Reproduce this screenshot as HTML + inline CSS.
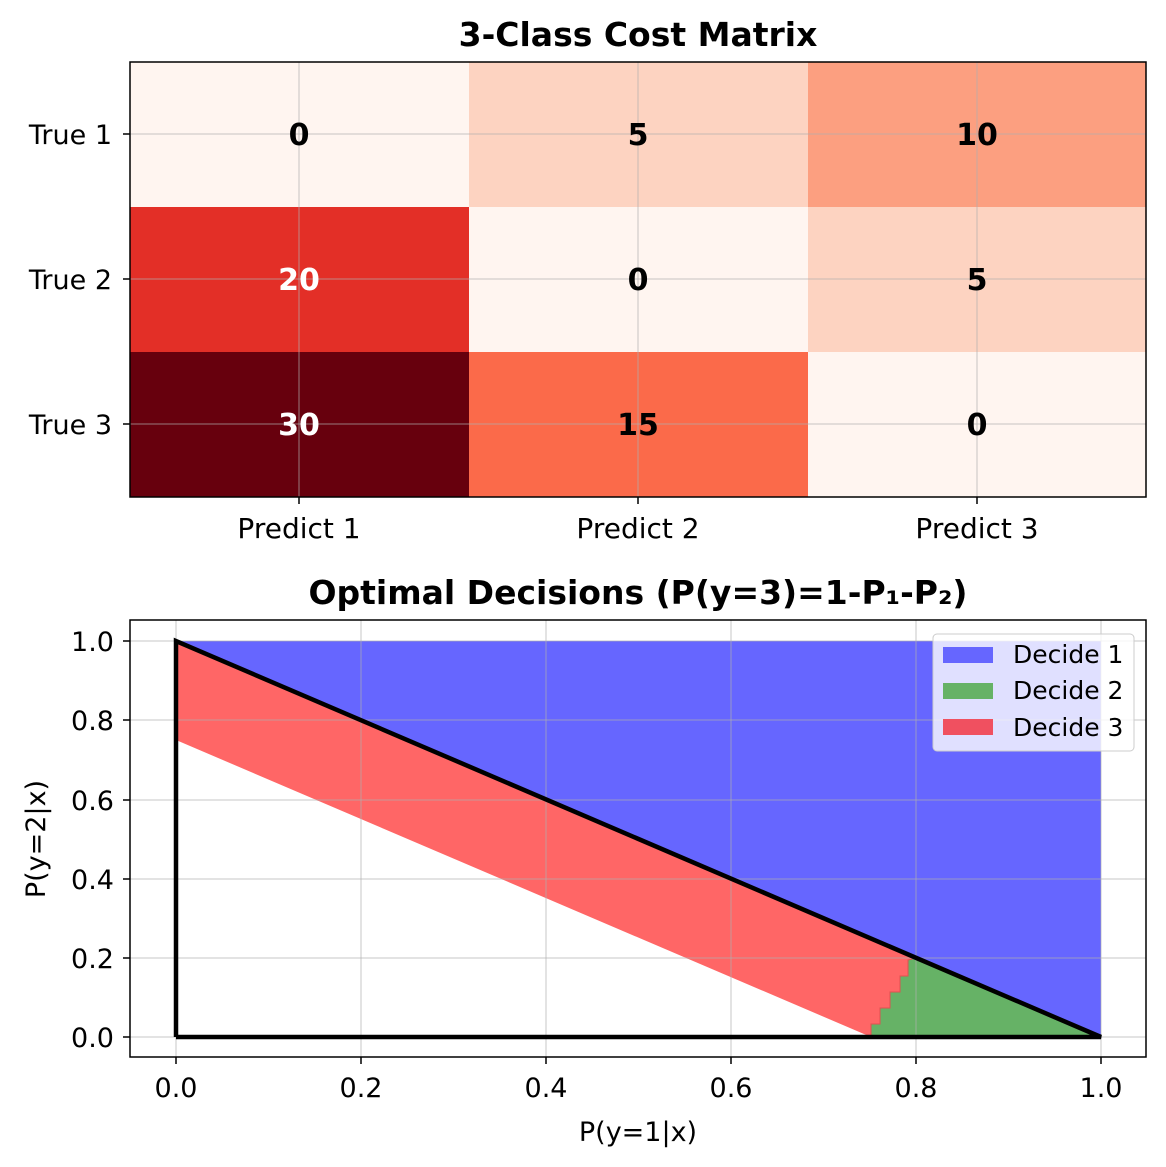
<!DOCTYPE html>
<html><head><style>body{margin:0;background:#fff}svg{display:block}</style></head><body>
<svg width="1166" height="1167" xmlns="http://www.w3.org/2000/svg" font-family="DejaVu Sans, Liberation Sans, sans-serif">
<text x="638" y="46" text-anchor="middle" font-size="33" font-weight="bold">3-Class Cost Matrix</text>
<rect x="130" y="62" width="339" height="145" fill="#fff5f0"/>
<rect x="469" y="62" width="339" height="145" fill="#fdd3c1"/>
<rect x="808" y="62" width="338" height="145" fill="#fc9f80"/>
<rect x="130" y="207" width="339" height="145" fill="#e32f27"/>
<rect x="469" y="207" width="339" height="145" fill="#fff5f0"/>
<rect x="808" y="207" width="338" height="145" fill="#fdd3c1"/>
<rect x="130" y="352" width="339" height="145" fill="#67000d"/>
<rect x="469" y="352" width="339" height="145" fill="#fb6a4a"/>
<rect x="808" y="352" width="338" height="145" fill="#fff5f0"/>
<g stroke="#b0b0b0" stroke-opacity="0.35" stroke-width="2">
<line x1="299" y1="62" x2="299" y2="497"/><line x1="638" y1="62" x2="638" y2="497"/><line x1="977" y1="62" x2="977" y2="497"/>
<line x1="130" y1="134" x2="1146" y2="134"/><line x1="130" y1="279" x2="1146" y2="279"/><line x1="130" y1="424" x2="1146" y2="424"/>
</g>
<rect x="130" y="62" width="1016" height="435" fill="none" stroke="#000" stroke-width="1.5"/>
<g font-size="30" font-weight="bold" text-anchor="middle">
<text x="299" y="145">0</text><text x="638" y="145">5</text><text x="977" y="145">10</text>
<text x="299" y="290" fill="#fff">20</text><text x="638" y="290">0</text><text x="977" y="290">5</text>
<text x="299" y="435" fill="#fff">30</text><text x="638" y="435">15</text><text x="977" y="435">0</text>
</g>
<g stroke="#000" stroke-width="1.5">
<line x1="123" y1="134" x2="130" y2="134"/><line x1="123" y1="279" x2="130" y2="279"/><line x1="123" y1="424" x2="130" y2="424"/>
<line x1="299" y1="497" x2="299" y2="504"/><line x1="638" y1="497" x2="638" y2="504"/><line x1="977" y1="497" x2="977" y2="504"/>
</g>
<g font-size="27" text-anchor="end"><text x="112" y="144">True 1</text><text x="112" y="289">True 2</text><text x="112" y="434">True 3</text></g>
<g font-size="28" text-anchor="middle"><text x="299" y="538">Predict 1</text><text x="638" y="538">Predict 2</text><text x="977" y="538">Predict 3</text></g>

<text x="638" y="604" text-anchor="middle" font-size="33" font-weight="bold">Optimal Decisions (P(y=3)=1-P₁-P₂)</text>
<polygon points="176,641 1101,641 1101,1037" fill="#6666ff"/>
<polygon points="176,641 916,958 908,960 908,976 900,976 900,992 890,992 890,1008 880,1008 880,1024 871,1024 871,1037 176,740" fill="#ff6666"/>
<polygon points="916,958 1101,1037 871,1037 871,1024 880,1024 880,1008 890,1008 890,992 900,992 900,976 908,976 908,960" fill="#66b266"/>
<polyline points="871,1037 871,1024 880,1024 880,1008 890,1008 890,992 900,992 900,976 908,976 908,960 916,958" fill="none" stroke="#e05050" stroke-width="1"/>
<g stroke="#b0b0b0" stroke-opacity="0.35" stroke-width="2">
<line x1="176" y1="620" x2="176" y2="1057"/><line x1="361" y1="620" x2="361" y2="1057"/><line x1="546" y1="620" x2="546" y2="1057"/><line x1="731" y1="620" x2="731" y2="1057"/><line x1="916" y1="620" x2="916" y2="1057"/><line x1="1101" y1="620" x2="1101" y2="1057"/>
<line x1="130" y1="1037" x2="1146" y2="1037"/><line x1="130" y1="958" x2="1146" y2="958"/><line x1="130" y1="879" x2="1146" y2="879"/><line x1="130" y1="800" x2="1146" y2="800"/><line x1="130" y1="720" x2="1146" y2="720"/><line x1="130" y1="641" x2="1146" y2="641"/>
</g>
<polyline points="176,1037 176,641 1101,1037 176,1037" fill="none" stroke="#000" stroke-width="4.5"/>
<rect x="130" y="620" width="1016" height="437" fill="none" stroke="#000" stroke-width="1.5"/>
<g stroke="#000" stroke-width="1.5">
<line x1="176" y1="1057" x2="176" y2="1064"/><line x1="361" y1="1057" x2="361" y2="1064"/><line x1="546" y1="1057" x2="546" y2="1064"/><line x1="731" y1="1057" x2="731" y2="1064"/><line x1="916" y1="1057" x2="916" y2="1064"/><line x1="1101" y1="1057" x2="1101" y2="1064"/>
<line x1="123" y1="1037" x2="130" y2="1037"/><line x1="123" y1="958" x2="130" y2="958"/><line x1="123" y1="879" x2="130" y2="879"/><line x1="123" y1="800" x2="130" y2="800"/><line x1="123" y1="720" x2="130" y2="720"/><line x1="123" y1="641" x2="130" y2="641"/>
</g>
<g font-size="27" text-anchor="middle"><text x="176" y="1097">0.0</text><text x="361" y="1097">0.2</text><text x="546" y="1097">0.4</text><text x="731" y="1097">0.6</text><text x="916" y="1097">0.8</text><text x="1101" y="1097">1.0</text></g>
<g font-size="27" text-anchor="end"><text x="114" y="1047">0.0</text><text x="114" y="968">0.2</text><text x="114" y="889">0.4</text><text x="114" y="810">0.6</text><text x="114" y="730">0.8</text><text x="114" y="651">1.0</text></g>
<text x="638" y="1141" text-anchor="middle" font-size="27">P(y=1|x)</text>
<text transform="translate(45,839) rotate(-90)" text-anchor="middle" font-size="27">P(y=2|x)</text>
<rect x="933" y="634" width="201" height="117" rx="4" fill="#fff" fill-opacity="0.8" stroke="#ccc"/>
<rect x="943" y="647" width="50" height="16" fill="#6666ff"/>
<rect x="943" y="683" width="50" height="16" fill="#66b266"/>
<rect x="943" y="719" width="50" height="16" fill="#f05060"/>
<g font-size="25"><text x="1013" y="663">Decide 1</text><text x="1013" y="699">Decide 2</text><text x="1013" y="736">Decide 3</text></g>
</svg>
</body></html>
